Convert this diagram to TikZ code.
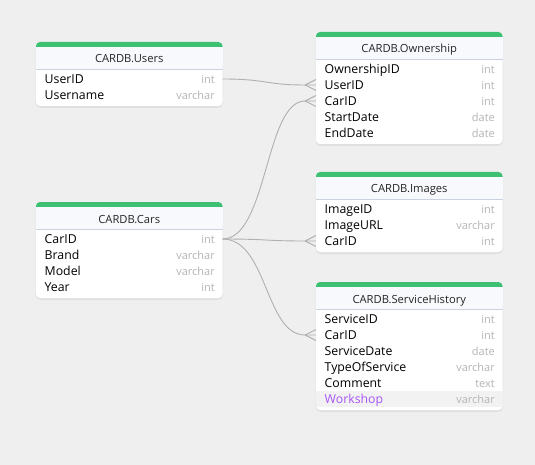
\documentclass[tikz,border=0pt]{standalone}
\usepackage{fontspec}
\setmainfont{Open Sans}
\usetikzlibrary{calc}
\definecolor{bgc}{HTML}{EFEFEF}
\definecolor{hdrgreen}{HTML}{3DC072}
\definecolor{hdrbg}{HTML}{F7F9FC}
\definecolor{sepc}{HTML}{C9D2DE}
\definecolor{typec}{HTML}{B5B5B5}
\definecolor{relc}{HTML}{B0B0B0}
\definecolor{purp}{HTML}{A855F7}
\definecolor{hlrow}{HTML}{F2F2F2}
\tikzset{
  tablebox/.style={draw=none, fill=white, rounded corners=4pt, inner sep=0pt, outer sep=0pt},
  shadowbox/.style={fill=black, fill opacity=0.06, rounded corners=5pt},
  titletext/.style={font=\fontsize{11.2}{13}\selectfont, text=black!85, inner sep=0pt, anchor=base},
  fieldtext/.style={font=\fontsize{12.3}{14}\selectfont, text=black, inner sep=0pt, anchor=base west},
  typetext/.style={font=\fontsize{11}{13}\selectfont, text=typec, inner sep=0pt, anchor=base east},
  rel/.style={draw=relc, line width=0.9pt},
}
% #1 id, #2 left, #3 top, #4 title, #5 number of rows (height), #6 rows Name/type
\newcommand{\erTable}[6]{%
  \pgfmathsetmacro\erH{27.5+16*#5+4.5}
  \fill[shadowbox] (#2-0.5,#3+0.5) rectangle ++(187.5,\erH+1.5);
  \node[tablebox, minimum width=186.5pt, minimum height=\erH pt, anchor=north west] (#1) at (#2,#3) {};
  \fill[hdrgreen, rounded corners=4pt] (#2,#3) rectangle ++(186.5,10);
  \fill[hdrbg] (#2,#3+5) rectangle ++(186.5,22.5);
  \draw[sepc, line width=0.8pt] (#2,#3+27.5) -- ++(186.5,0);
  \node[titletext] (#1-title) at (#2+93.25,#3+21) {#4};
  \foreach \f/\t [count=\i from 0] in {#6} {
    \coordinate (#1-\f-L) at (#2,#3+37+16*\i);
    \coordinate (#1-\f-R) at (#2+186.5,#3+37+16*\i);
    \node[fieldtext] (#1-\f) at (#2+8.5,#3+41.5+16*\i) {\f};
    \node[typetext] (#1-\f-type) at (#2+179,#3+41.5+16*\i) {\t};
  }
}
\newcommand{\crowfoot}[1]{%
  \draw[rel] (#1) ++(-11,0) -- ++(11,-5.5);
  \draw[rel] (#1) ++(-11,0) -- ++(11,5.5);
}
\begin{document}
\begin{tikzpicture}[x=1pt,y=-1pt]
\fill[bgc] (0,0) rectangle (535,465);
\useasboundingbox (0,0) rectangle (535,465);

\erTable{users}{36}{42}{CARDB.Users}{2}{UserID/int, Username/varchar}
\erTable{own}{316}{32}{CARDB.Ownership}{5}{OwnershipID/int, UserID/int, CarID/int, StartDate/date, EndDate/date}
\erTable{cars}{36}{202}{CARDB.Cars}{4}{CarID/int, Brand/varchar, Model/varchar, Year/int}
\erTable{img}{316}{172}{CARDB.Images}{3}{ImageID/int, ImageURL/varchar, CarID/int}
\erTable{svc}{316}{282}{CARDB.ServiceHistory}{6}{ServiceID/int, CarID/int, ServiceDate/date, TypeOfService/varchar, Comment/text}
% extra highlighted row
\fill[hlrow] (316,390.5) rectangle ++(186.5,16);
\coordinate (svc-Workshop-L) at (316,398.5);
\node[fieldtext, text=purp] (svc-Workshop) at (324.5,403) {Workshop};
\node[typetext] (svc-Workshop-type) at (495,403) {varchar};

% relations
\draw[rel] (users-UserID-R) .. controls +(45,0) and +(-40,0) .. ($(own-UserID-L)+(-11,0)$) -- (own-UserID-L);
\crowfoot{own-UserID-L}
\draw[rel] (cars-CarID-R) .. controls +(45,0) and +(-40,0) .. ($(own-CarID-L)+(-11,0)$) -- (own-CarID-L);
\crowfoot{own-CarID-L}
\draw[rel] (cars-CarID-R) .. controls +(45,0) and +(-40,0) .. ($(img-CarID-L)+(-11,0)$) -- (img-CarID-L);
\crowfoot{img-CarID-L}
\draw[rel] (cars-CarID-R) .. controls +(45,0) and +(-40,0) .. ($(svc-CarID-L)+(-11,0)$) -- (svc-CarID-L);
\crowfoot{svc-CarID-L}
\end{tikzpicture}
\end{document}
